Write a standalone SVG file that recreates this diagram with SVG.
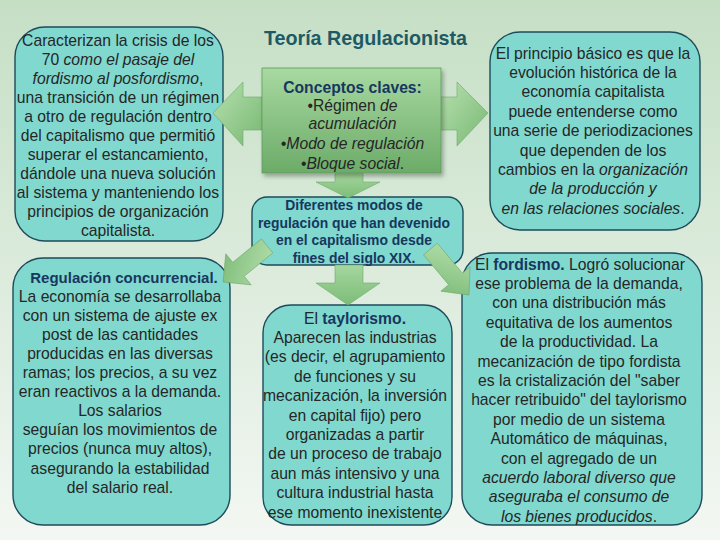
<svg xmlns="http://www.w3.org/2000/svg" width="720" height="540" viewBox="0 0 720 540">
<defs>
<linearGradient id="bg" x1="0" y1="0" x2="0" y2="1">
<stop offset="0" stop-color="#c5dfc5"/>
<stop offset="1" stop-color="#f3f7f3"/>
</linearGradient>
<linearGradient id="grn" x1="0" y1="0" x2="0" y2="1">
<stop offset="0" stop-color="#a8d9a1"/>
<stop offset="1" stop-color="#6cab68"/>
</linearGradient>
<linearGradient id="arr" x1="0" y1="0" x2="1" y2="1">
<stop offset="0" stop-color="#b6e0ae"/>
<stop offset="1" stop-color="#78b873"/>
</linearGradient>
<linearGradient id="arrv" x1="0" y1="0" x2="0" y2="1">
<stop offset="0" stop-color="#a5d69e"/>
<stop offset="1" stop-color="#7dbd78"/>
</linearGradient>
<filter id="sh" x="-10%" y="-10%" width="130%" height="130%">
<feDropShadow dx="2" dy="3" stdDeviation="2" flood-color="#000" flood-opacity="0.3"/>
</filter>
</defs>
<style>
.box{fill:#80d8cf;stroke:#1d4b5b;stroke-width:1.4}
.t{font-family:"Liberation Sans",Arial,sans-serif;font-size:15.7px;fill:#262626;text-anchor:middle}
.b{font-weight:bold;fill:#17375e}
.i{font-style:italic}
.ar{fill:url(#arr);stroke:#6fa86b;stroke-width:0.6}
.av{fill:url(#arrv);stroke:#6fa86b;stroke-width:0.6}
.title{font-family:"Liberation Sans",Arial,sans-serif;font-size:19.7px;font-weight:bold;fill:#1e5a66;text-anchor:middle}
</style>
<rect x="0" y="0" width="720" height="540" fill="url(#bg)"/>

<g id="node-crisis">
<rect class="box" x="15" y="27" width="208" height="214" rx="30"/>
<text class="t" x="118" y="45.5">Caracterizan la crisis de los</text>
<text class="t" x="118" y="64.5">70 <tspan class="i">como el pasaje del</tspan></text>
<text class="t" x="118" y="83.5"><tspan class="i">fordismo al posfordismo</tspan>,</text>
<text class="t" x="118" y="102.5">una transición de un régimen</text>
<text class="t" x="118" y="121.5">a otro de regulación dentro</text>
<text class="t" x="118" y="140.5">del capitalismo que permitió</text>
<text class="t" x="118" y="159.5">superar el estancamiento,</text>
<text class="t" x="118" y="178.5">dándole una nueva solución</text>
<text class="t" x="118" y="197.5">al sistema y manteniendo los</text>
<text class="t" x="118" y="216.5">principios de organización</text>
<text class="t" x="118" y="235.5">capitalista.</text>
</g>

<g id="node-title">
<text class="title" x="365.5" y="45">Teoría Regulacionista</text>
</g>

<g id="node-principio">
<rect class="box" x="490" y="32" width="210" height="198" rx="30"/>
<text class="t" x="593" y="58.5">El principio básico es que la</text>
<text class="t" x="593" y="77.9">evolución histórica de la</text>
<text class="t" x="593" y="97.3">economía capitalista</text>
<text class="t" x="593" y="116.7">puede entenderse como</text>
<text class="t" x="593" y="136.1">una serie de periodizaciones</text>
<text class="t" x="593" y="155.5">que dependen de los</text>
<text class="t" x="593" y="174.9">cambios en la <tspan class="i">organización</tspan></text>
<text class="t" x="593" y="194.3"><tspan class="i">de la producción y</tspan></text>
<text class="t" x="593" y="213.7"><tspan class="i">en las relaciones sociales</tspan>.</text>
</g>

<g id="node-diferentes">
<rect class="box" x="252" y="197" width="211" height="68" rx="15"/>
<text class="t b" style="font-size:13.9px" x="354" y="209.5">Diferentes modos de</text>
<text class="t b" style="font-size:13.9px" x="354" y="227.5">regulación que han devenido</text>
<text class="t b" style="font-size:13.9px" x="354" y="245">en el capitalismo desde</text>
<text class="t b" style="font-size:13.9px" x="354" y="262.5">fines del siglo XIX.</text>
</g>

<g id="node-concurrencial">
<rect class="box" x="13" y="258" width="217" height="267" rx="30"/>
<text class="t b" style="font-size:15px" x="124" y="282.5">Regulación concurrencial.</text>
<text class="t" x="120" y="301.6">La economía se desarrollaba</text>
<text class="t" x="120" y="320.7">con un sistema de ajuste ex</text>
<text class="t" x="120" y="339.8">post de las cantidades</text>
<text class="t" x="120" y="358.9">producidas en las diversas</text>
<text class="t" x="120" y="378">ramas; los  precios, a su vez</text>
<text class="t" x="120" y="397.1">eran reactivos a la demanda.</text>
<text class="t" x="120" y="416.2">Los salarios</text>
<text class="t" x="120" y="435.3">seguían los movimientos de</text>
<text class="t" x="120" y="454.4">precios (nunca muy altos),</text>
<text class="t" x="120" y="473.5">asegurando la estabilidad</text>
<text class="t" x="120" y="492.6">del salario real.</text>
</g>

<g id="node-taylorismo">
<rect class="box" x="263" y="305" width="189" height="220" rx="28"/>
<text class="t" x="355" y="323.5">El <tspan class="b">taylorismo.</tspan></text>
<text class="t" x="355" y="342.9">Aparecen las industrias</text>
<text class="t" x="355" y="362.3">(es decir, el agrupamiento</text>
<text class="t" x="355" y="381.7">de funciones y su</text>
<text class="t" x="355" y="401.1">mecanización, la inversión</text>
<text class="t" x="355" y="420.5">en capital fijo) pero</text>
<text class="t" x="355" y="439.9">organizadas a partir</text>
<text class="t" x="355" y="459.3">de un proceso de trabajo</text>
<text class="t" x="355" y="478.7">aun más intensivo  y una</text>
<text class="t" x="355" y="498.1">cultura industrial hasta</text>
<text class="t" x="355" y="517.5">ese momento inexistente</text>
</g>

<g id="node-fordismo">
<rect class="box" x="462" y="253" width="240" height="272" rx="30"/>
<text class="t" x="580" y="269.5">El <tspan class="b">fordismo.</tspan> Logró solucionar</text>
<text class="t" x="579" y="288.9">ese problema de la demanda,</text>
<text class="t" x="579" y="308.3">con una distribución más</text>
<text class="t" x="579" y="327.7">equitativa de los aumentos</text>
<text class="t" x="579" y="347.1">de la productividad. La</text>
<text class="t" x="579" y="366.5">mecanización de tipo fordista</text>
<text class="t" x="579" y="385.9">es la cristalización del "saber</text>
<text class="t" x="579" y="405.3">hacer retribuido" del taylorismo</text>
<text class="t" x="579" y="424.7">por medio de un sistema</text>
<text class="t" x="579" y="444.1">Automático  de máquinas,</text>
<text class="t" x="579" y="463.5">con el agregado de un</text>
<text class="t" x="579" y="482.9"><tspan class="i">acuerdo laboral diverso que</tspan></text>
<text class="t" x="579" y="502.3"><tspan class="i">aseguraba el consumo de</tspan></text>
<text class="t" x="579" y="521.7"><tspan class="i">los bienes producidos</tspan>.</text>
</g>

<g id="connectors">
<polygon class="ar" points="262,97 243,97 243,82 213,113 243,146 243,130 262,130"/>
<polygon class="ar" points="441,97 457,97 457,82 488,113 457,146 457,130 441,130"/>
<polygon class="av" points="335,173 363,173 363,182 380,182 348,198 316,182 335,182"/>
<polygon class="av" points="335,265 363,265 363,283 380,283 348,305 316,283 335,283"/>
<polygon class="ar" transform="translate(223,282) rotate(140.7) translate(-57,0)" points="0,-9 37,-9 37,-20 57,0 37,20 37,9 0,9"/>
<polygon class="ar" transform="translate(469,295) rotate(50) translate(-60,0)" points="0,-9 39,-9 39,-19 60,0 39,19 39,9 0,9"/>
</g>

<g id="node-conceptos">
<rect x="262" y="68" width="179" height="105" fill="url(#grn)" stroke="#5e9c5a" stroke-width="0.8" filter="url(#sh)"/>
<text class="t b" x="352.5" y="92.5">Conceptos claves:</text>
<text class="t" x="352.5" y="110.5">•Régimen <tspan class="i">de</tspan></text>
<text class="t i" x="352.5" y="128.5">acumulación</text>
<text class="t i" x="352.5" y="148.5">•Modo de regulación</text>
<text class="t" x="352.5" y="168.5">•<tspan class="i">Bloque social</tspan>.</text>
</g>
</svg>
